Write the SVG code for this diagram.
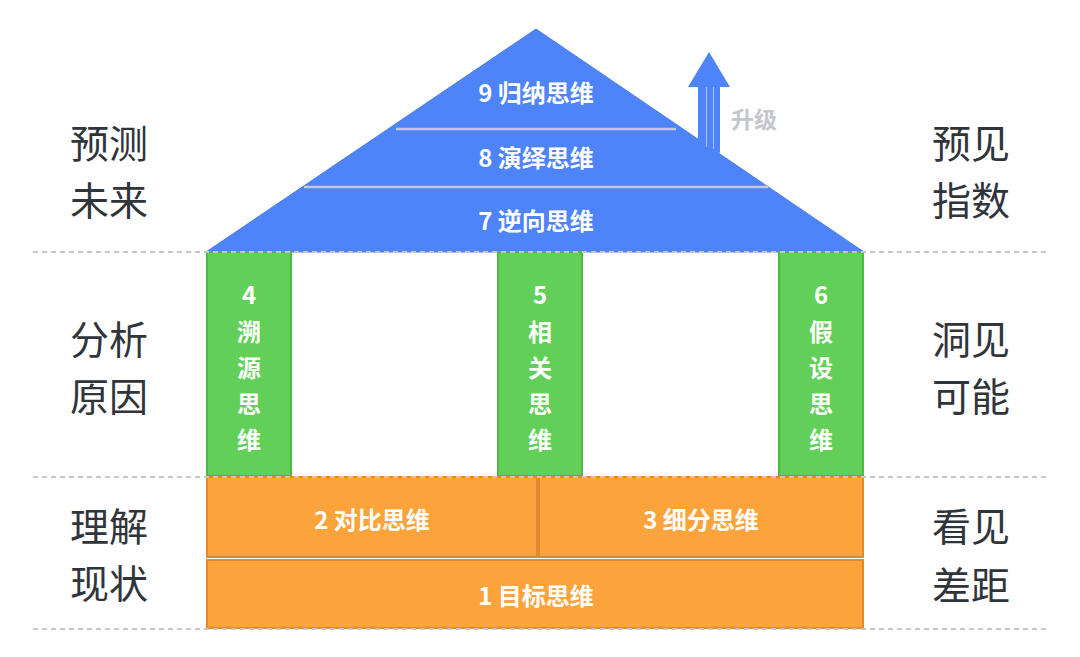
<svg xmlns="http://www.w3.org/2000/svg" width="1080" height="657" viewBox="0 0 1080 657">
<style>
.side{font-family:"Noto Sans CJK SC","Noto Sans",sans-serif;font-size:39px;fill:#30353b;text-anchor:middle;dominant-baseline:central}
.lbl{font-family:"Noto Sans CJK SC","Noto Sans",sans-serif;font-size:24px;font-weight:bold;fill:#ffffff;text-anchor:middle;dominant-baseline:central}
.green{fill:#62d058;stroke:#4cba44;stroke-width:2}
.orange{fill:#fda33c;stroke:#e08a2c;stroke-width:2}
.dash{stroke:#c4c6ca;stroke-width:2;stroke-dasharray:5 4;fill:none}
.sep{stroke:#c2c8d4;stroke-width:2.5}
</style>
<rect width="1080" height="657" fill="#ffffff"/>
<g id="roof">
<polygon points="536,29 864,252 206,252" fill="#4e84f8" stroke="#4a7ef0" stroke-width="1"/>
<line class="sep" x1="396" y1="129" x2="676" y2="129"/>
<line class="sep" x1="304" y1="187" x2="768" y2="187"/>
<text class="lbl" x="536" y="91">9 归纳思维</text>
<text class="lbl" x="536" y="156">8 演绎思维</text>
<text class="lbl" x="536" y="219">7 逆向思维</text>
</g>
<g id="upgrade">
<polygon points="709,52 730,87 688,87" fill="#4e84f8"/>
<polygon points="698,87 720,87 720,153 698,146" fill="#4e84f8"/>
<line x1="706.5" y1="87" x2="706.5" y2="147" stroke="#a8c4fb" stroke-width="1"/>
<line x1="713.5" y1="87" x2="713.5" y2="149" stroke="#a8c4fb" stroke-width="1"/>
<text x="754" y="118" font-family="'Noto Sans CJK SC','Noto Sans',sans-serif" font-size="23" font-weight="bold" fill="#c3c6cb" text-anchor="middle" dominant-baseline="central">升级</text>
</g>
<g id="pillar4">
<rect class="green" x="207" y="252" width="84" height="224"/>
<text class="lbl" x="249" y="293">4</text>
<text class="lbl" x="249" y="330">溯</text>
<text class="lbl" x="249" y="366">源</text>
<text class="lbl" x="249" y="402">思</text>
<text class="lbl" x="249" y="438">维</text>
</g>
<g id="pillar5">
<rect class="green" x="498" y="252" width="84" height="224"/>
<text class="lbl" x="540" y="293">5</text>
<text class="lbl" x="540" y="330">相</text>
<text class="lbl" x="540" y="366">关</text>
<text class="lbl" x="540" y="402">思</text>
<text class="lbl" x="540" y="438">维</text>
</g>
<g id="pillar6">
<rect class="green" x="779" y="252" width="84" height="224"/>
<text class="lbl" x="821" y="293">6</text>
<text class="lbl" x="821" y="330">假</text>
<text class="lbl" x="821" y="366">设</text>
<text class="lbl" x="821" y="402">思</text>
<text class="lbl" x="821" y="438">维</text>
</g>
<g id="base2">
<rect class="orange" x="207" y="477" width="330" height="80"/>
<text class="lbl" x="372" y="518">2 对比思维</text>
</g>
<g id="base3">
<rect class="orange" x="539" y="477" width="324" height="80"/>
<text class="lbl" x="701" y="518">3 细分思维</text>
</g>
<g id="base1">
<rect class="orange" x="207" y="560" width="656" height="68"/>
<text class="lbl" x="536" y="594">1 目标思维</text>
</g>
<g id="connectors">
<line class="dash" x1="33" y1="252" x2="1048" y2="252"/>
<line class="dash" x1="33" y1="477" x2="1048" y2="477"/>
<line class="dash" x1="33" y1="629" x2="1048" y2="629"/>
</g>
<g id="left-labels">
<text class="side" x="109" y="141">预测</text>
<text class="side" x="109" y="198">未来</text>
<text class="side" x="109" y="337">分析</text>
<text class="side" x="109" y="394">原因</text>
<text class="side" x="109" y="524">理解</text>
<text class="side" x="109" y="581">现状</text>
</g>
<g id="right-labels">
<text class="side" x="971" y="141">预见</text>
<text class="side" x="971" y="198">指数</text>
<text class="side" x="971" y="337">洞见</text>
<text class="side" x="971" y="394">可能</text>
<text class="side" x="971" y="524">看见</text>
<text class="side" x="971" y="583">差距</text>
</g>
</svg>
